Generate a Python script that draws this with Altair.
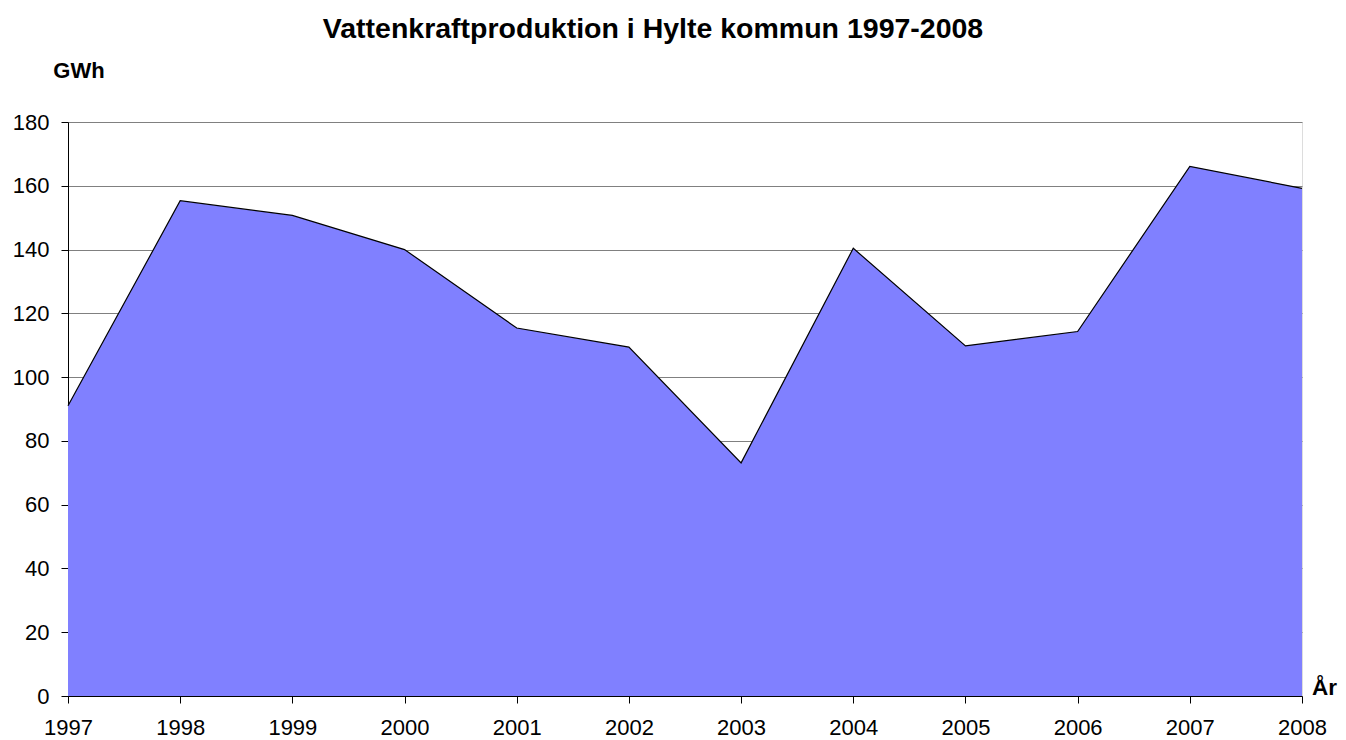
import altair as alt
import pandas as pd

years = [1997, 1998, 1999, 2000, 2001, 2002, 2003, 2004, 2005, 2006, 2007, 2008]
gwh = [91.0, 155.3, 150.7, 140.0, 115.4, 109.4, 73.1, 140.4, 109.8, 114.3, 166.1, 159.2]
y_ticks = [0, 20, 40, 60, 80, 100, 120, 140, 160, 180]

title_text = "Vattenkraftproduktion i Hylte kommun 1997-2008"
y_label = "GWh"
x_label = "År"

FONT = "Liberation Sans, Arial"

df = pd.DataFrame({"year": years, "gwh": gwh})

x_enc = alt.X(
    "year:Q",
    scale=alt.Scale(domain=[1997, 2008], nice=False, zero=False),
    axis=alt.Axis(
        values=years, format="d", title=None, grid=False,
        labelFontSize=22, labelFont=FONT, labelColor="black",
        labelFlush=False, labelOverlap=False, labelPadding=14,
        tickSize=7, tickColor="black", domainColor="black",
    ),
)
y_enc = alt.Y(
    "gwh:Q",
    scale=alt.Scale(domain=[0, 180], nice=False),
    axis=alt.Axis(
        values=y_ticks, title=None, grid=True, gridColor="#808080",
        labelFontSize=22, labelFont=FONT, labelColor="black",
        labelPadding=12, tickSize=7, tickColor="black", domainColor="black",
        labelFlush=False,
    ),
)

area = alt.Chart(df).mark_area(color="#8080FF", opacity=1).encode(x=x_enc, y=y_enc)
line = alt.Chart(df).mark_line(color="black", strokeWidth=1.2).encode(x="year:Q", y="gwh:Q")

def label(text, x, y, size, align="center"):
    return alt.Chart(pd.DataFrame({"t": [text]})).mark_text(
        font=FONT, fontSize=size, fontWeight="bold", color="black",
        align=align, baseline="alphabetic",
    ).encode(text="t:N", x=alt.value(x), y=alt.value(y))

title_mark = label(title_text, 585, -84, 28.5)
gwh_mark = label(y_label, 11, -44, 22)
ar_mark = label(x_label, 1244, 573, 22.5, align="left")

chart = alt.layer(area, line, title_mark, gwh_mark, ar_mark).properties(
    width=1234, height=574,
    autosize=alt.AutoSizeParams(type="none"),
    padding={"left": 60, "top": 114, "right": 36, "bottom": 44},
).configure_view(stroke="#808080", strokeWidth=1).configure(background="white")

chart.save("out.html", embed_options={"renderer": "svg", "actions": False})
